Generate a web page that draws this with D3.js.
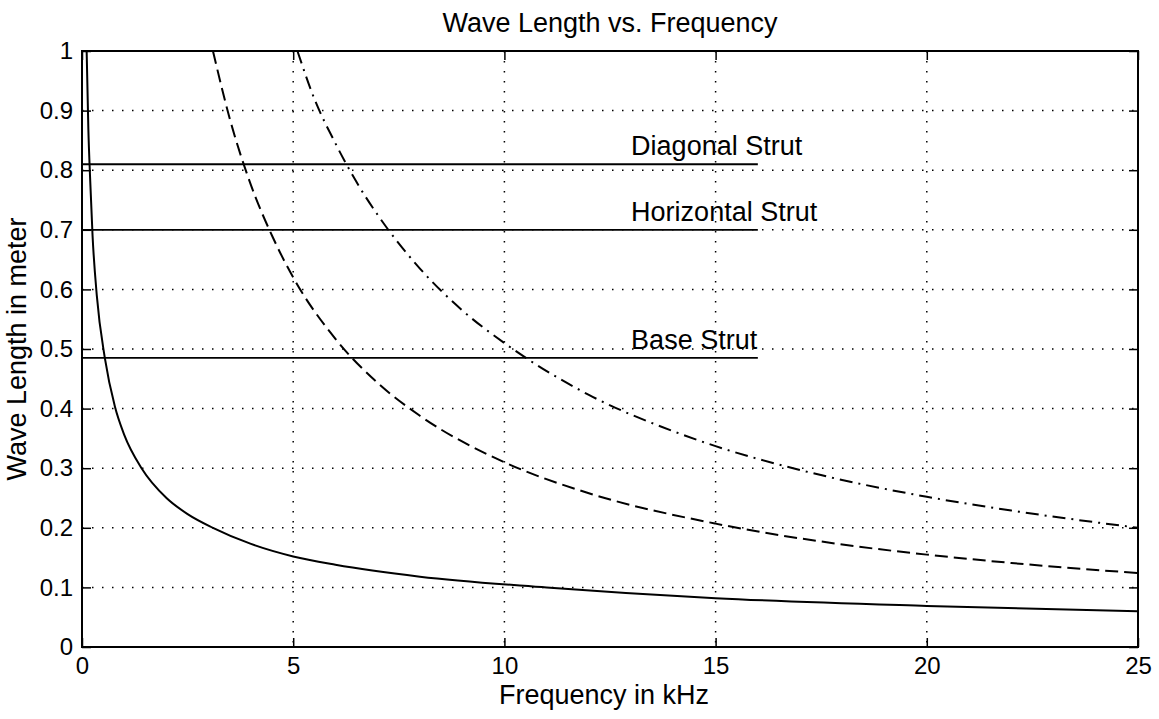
<!DOCTYPE html>
<html>
<head>
<meta charset="utf-8">
<script src="https://cdn.jsdelivr.net/npm/d3@7"></script>
<style>
  body { margin: 0; background: #fff; }
  text { font-family: "Liberation Sans", Arial, Helvetica, sans-serif; fill: #000; }
</style>
</head>
<body>
<svg id="chart"></svg>
<script>
// frequency (kHz) / wave length (m)
const solidFreq = [0.11, 0.15, 0.19, 0.25, 0.35, 0.54, 0.78, 1.0, 1.41, 2, 2.5, 3.1, 4, 5, 6, 8, 11, 15, 20, 25]
const solidLen  = [1.0, 0.87, 0.79, 0.69, 0.59, 0.485, 0.403, 0.356, 0.3, 0.25, 0.223, 0.2, 0.173, 0.152, 0.138, 0.118, 0.1, 0.082, 0.069, 0.06]
const dashFreq = [3.1, 3.5, 4, 4.5, 5, 6, 7, 8, 10, 12, 15, 18, 20, 22, 25]
const dashLen  = [1.0, 0.886, 0.775, 0.69, 0.62, 0.517, 0.443, 0.388, 0.31, 0.258, 0.207, 0.172, 0.155, 0.141, 0.124]
const dashDotFreq = [5.1, 5.5, 6, 6.5, 7, 8, 9, 10, 12, 14, 15, 17, 20, 22, 25]
const dashDotLen  = [1.0, 0.92, 0.845, 0.78, 0.725, 0.635, 0.565, 0.51, 0.423, 0.362, 0.337, 0.297, 0.252, 0.229, 0.2]

const strutNames  = ["Diagonal Strut", "Horizontal Strut", "Base Strut"]
const strutLength = [0.81, 0.70, 0.485]
const strutFreqEnd = 16
const strutLabelFreq = 13

const xTicks = [0, 5, 10, 15, 20, 25]
const yTicks = [0, 0.1, 0.2, 0.3, 0.4, 0.5, 0.6, 0.7, 0.8, 0.9, 1]

const W = 1159, H = 719
const margin = {top: 51, right: 21, bottom: 72, left: 82}
const width = W - margin.left - margin.right
const height = H - margin.top - margin.bottom

const svg = d3.select("#chart").attr("width", W).attr("height", H)
const g = svg.append("g").attr("transform", `translate(${margin.left}, ${margin.top})`)

const x = d3.scaleLinear().domain([0, 25]).range([0, width])
const y = d3.scaleLinear().domain([0, 1]).range([height, 0])

// dotted grid
g.selectAll(".vgrid")
  .data(xTicks.slice(1, -1))
  .enter().append("line")
  .attr("x1", d => x(d)).attr("x2", d => x(d))
  .attr("y1", 0).attr("y2", height)
  .attr("stroke", "#000").attr("stroke-width", 1.5)
  .attr("stroke-dasharray", "1.5,8.5")
g.selectAll(".hgrid")
  .data(yTicks.slice(1, -1))
  .enter().append("line")
  .attr("y1", d => y(d)).attr("y2", d => y(d))
  .attr("x1", 0).attr("x2", width)
  .attr("stroke", "#000").attr("stroke-width", 1.5)
  .attr("stroke-dasharray", "1.5,8.5")

// axes, ticks inside like matlab
const fmt = d3.format("~g")
const bottom = g.append("g").attr("transform", `translate(0, ${height})`)
  .call(d3.axisBottom(x).tickValues(xTicks).tickSize(-9).tickPadding(10).tickFormat(fmt))
const left = g.append("g")
  .call(d3.axisLeft(y).tickValues(yTicks).tickSize(-9).tickPadding(9).tickFormat(fmt))
g.append("g").call(d3.axisTop(x).tickValues(xTicks).tickSize(-9).tickFormat(""))
g.append("g").attr("transform", `translate(${width}, 0)`)
  .call(d3.axisRight(y).tickValues(yTicks).tickSize(-9).tickFormat(""))
g.selectAll(".domain").remove()
g.selectAll(".tick line").attr("stroke", "#000").attr("stroke-width", 1.5)
bottom.selectAll("text").style("font-size", "24px").attr("fill", "#000")
left.selectAll("text").style("font-size", "24px").attr("fill", "#000")

// frame
g.append("rect")
  .attr("width", width).attr("height", height)
  .attr("fill", "none").attr("stroke", "#000").attr("stroke-width", 2)

// strut lines
strutLength.forEach((len, i) => {
  g.append("line")
    .attr("x1", x(0)).attr("x2", x(strutFreqEnd))
    .attr("y1", y(len)).attr("y2", y(len))
    .attr("stroke", "#000").attr("stroke-width", 1.8)
  g.append("text")
    .attr("x", x(strutLabelFreq)).attr("y", y(len) - 9)
    .style("font-size", "27px")
    .text(strutNames[i])
})

// curves
const line = d3.line()
  .x(d => x(d[0]))
  .y(d => y(d[1]))
  .curve(d3.curveMonotoneX)

const curves = [
  {f: solidFreq, l: solidLen, dash: null},
  {f: dashFreq, l: dashLen, dash: "13,6"},
  {f: dashDotFreq, l: dashDotLen, dash: "13,6,2,6"}
]
curves.forEach(c => {
  g.append("path")
    .datum(c.f.map((f, i) => [f, c.l[i]]))
    .attr("fill", "none")
    .attr("stroke", "#000")
    .attr("stroke-width", 2)
    .attr("stroke-dasharray", c.dash)
    .attr("d", line)
})

// title and labels
svg.append("text")
  .attr("x", margin.left + width / 2).attr("y", 32)
  .attr("text-anchor", "middle")
  .style("font-size", "27px")
  .text("Wave Length vs. Frequency")
svg.append("text")
  .attr("x", margin.left + width / 2 - 6).attr("y", 704)
  .attr("text-anchor", "middle")
  .style("font-size", "27px")
  .text("Frequency in kHz")
svg.append("text")
  .attr("transform", `translate(26, ${margin.top + height / 2}) rotate(-90)`)
  .attr("text-anchor", "middle")
  .style("font-size", "27px")
  .text("Wave Length in meter")
</script>
</body>
</html>
